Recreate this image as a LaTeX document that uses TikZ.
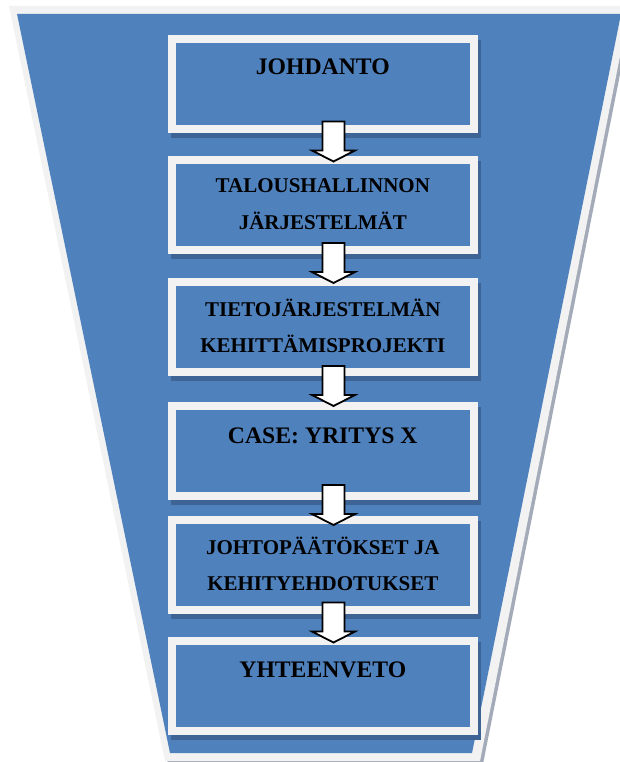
\documentclass[tikz,border=0pt]{standalone}
\usepackage{fontspec}
\setmainfont{Liberation Serif}
\usetikzlibrary{calc,shadows}

\definecolor{funnelblue}{HTML}{4F81BD}
\definecolor{framegray}{HTML}{F2F2F2}
\definecolor{funnelshade}{HTML}{A3ABB8}
\definecolor{boxshade}{HTML}{3E6496}

\tikzset{
  stagebox/.style={
    fill=framegray, minimum width=310pt, minimum height=98pt, inner sep=0pt,
    drop shadow={shadow xshift=3pt, shadow yshift=-5pt, fill=boxshade, opacity=1},
    path picture={\fill[funnelblue]
      ([shift={(8pt,8pt)}]path picture bounding box.south west) rectangle
      ([shift={(-8pt,-8pt)}]path picture bounding box.north east);}},
  bigtitle/.style={font=\bfseries\fontsize{23.7}{28}\selectfont, anchor=base, inner sep=0pt},
  smalltitle/.style={font=\bfseries\fontsize{21}{25}\selectfont, anchor=base, inner sep=0pt},
  flowarrow/.style={fill=white, draw=black, line width=1.8pt, line join=miter},
}

% block arrow centred in the gap between two stacked boxes
\newcommand\stagearrow[2]{%
  \draw[flowarrow] let \p1=($(#1.south)!0.5!(#2.north)$) in
    ({\x1-0.5pt},{\y1+23pt}) -- ({\x1+21.5pt},{\y1+23pt}) --
    ({\x1+21.5pt},{\y1-6pt}) -- ({\x1+32pt},{\y1-6pt}) --
    ({\x1+10.5pt},{\y1-17pt}) -- ({\x1-11pt},{\y1-6pt}) --
    ({\x1-0.5pt},{\y1-6pt}) -- cycle;}

\begin{document}
\begin{tikzpicture}[x=1pt, y=-1pt]
  \useasboundingbox (0,0) rectangle (619,762);

  % funnel background with its frame and shadow
  \fill[funnelshade] (12,9) -- (633,9) -- (483,764) -- (168,764) -- cycle;
  \fill[framegray] (9,6) -- (630,6) -- (480,761) -- (165,761) -- cycle;
  \fill[funnelblue] (17,14) -- (621,14) -- (472,753) -- (170,753) -- cycle;

  % stage boxes
  \node[stagebox] (b1) at (323,84) {};
  \node[stagebox] (b2) at (323,205) {};
  \node[stagebox] (b3) at (323,327) {};
  \node[stagebox] (b4) at (323,451) {};
  \node[stagebox] (b5) at (323,565) {};
  \node[stagebox] (b6) at (323,686) {};

  % arrows between the stages
  \stagearrow{b1}{b2}
  \stagearrow{b2}{b3}
  \stagearrow{b3}{b4}
  \stagearrow{b4}{b5}
  \stagearrow{b5}{b6}

  % stage titles
  \node[bigtitle] (t1) at (322.8,75) {JOHDANTO};
  \node[smalltitle] (t2a) at (322.8,192) {TALOUSHALLINNON};
  \node[smalltitle] (t2b) at (322.8,229) {JÄRJESTELMÄT};
  \node[smalltitle] (t3a) at (322.8,316) {TIETOJÄRJESTELMÄN};
  \node[smalltitle] (t3b) at (322.8,352) {KEHITTÄMISPROJEKTI};
  \node[bigtitle] (t4) at (322.8,443) {CASE: YRITYS X};
  \node[smalltitle] (t5a) at (322.8,554) {JOHTOPÄÄTÖKSET JA};
  \node[smalltitle] (t5b) at (322.8,590) {KEHITYEHDOTUKSET};
  \node[bigtitle] (t6) at (322.8,677) {YHTEENVETO};
\end{tikzpicture}
\end{document}
